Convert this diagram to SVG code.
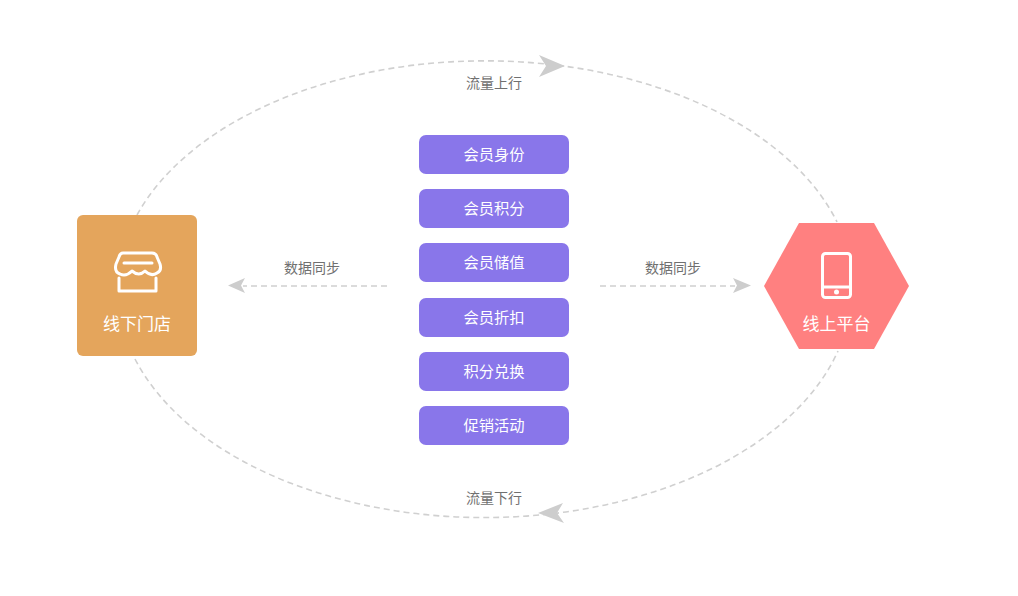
<svg xmlns="http://www.w3.org/2000/svg" width="1018" height="596" viewBox="0 0 1018 596">
<style>
text{font-family:"Noto Sans CJK SC","Liberation Sans",sans-serif;text-anchor:middle}
.lbl{font-size:14px;fill:#707070}
.btn{fill:#8976ea}
.bt{font-size:15.300px;fill:#fff}
.nt{font-size:17px;fill:#fff}
.dash{fill:none;stroke:#d0d0d0;stroke-width:1.6;stroke-dasharray:6 4}
.head{fill:#cdcdcd}
.ico{fill:none;stroke:#fff;stroke-width:3;stroke-linecap:round;stroke-linejoin:round}
</style>
<rect width="1018" height="596" fill="#fff"/>
<g id="connectors">
<path class="dash" d="M137 215A368 228 0 0 1 837 222"/>
<path class="dash" d="M135 359A367 228 0 0 0 838 351"/>
<path class="dash" d="M387 286H243"/>
<path class="dash" d="M600 286H735"/>
<polygon class="head" points="539,55 565,66 539,77 546,66"/>
<polygon class="head" points="563,503 538,513 564,523 557,513"/>
<polygon class="head" points="245,278 228,285.500 245,293 241,285.500"/>
<polygon class="head" points="733,278 751,285.500 733,293 737,285.500"/>
</g>
<g id="label-top"><text class="lbl" x="494" y="88">流量上行</text></g>
<g id="label-bottom"><text class="lbl" x="494" y="503">流量下行</text></g>
<g id="label-left"><text class="lbl" x="312" y="273">数据同步</text></g>
<g id="label-right"><text class="lbl" x="673" y="273">数据同步</text></g>
<g id="store">
<rect x="77" y="215" width="120" height="141" rx="6" fill="#e4a55c"/>
<path class="ico" d="M123 253H152Q156 253 157 257L160 264Q162 271 157 273Q151 277 145 271Q139 277 132 271Q126 277 120 274Q114 272 116 264L119 257Q120 253 123 253Z"/>
<path class="ico" d="M124 263H152"/>
<path class="ico" d="M119 278V291H156V278"/>
<text class="nt" x="137" y="330">线下门店</text>
</g>
<g id="platform">
<polygon points="799,223 874,223 909,286 874,349 799,349 764,286" fill="#ff8080"/>
<rect class="ico" x="822.500" y="253.500" width="28" height="44" rx="3"/>
<path class="ico" d="M823 287H850"/>
<circle cx="836.500" cy="292" r="2.500" fill="#fff"/>
<text class="nt" x="836.500" y="330">线上平台</text>
</g>
<g id="b1"><rect class="btn" x="419" y="135" width="150" height="39" rx="7"/><text class="bt" x="494" y="160">会员身份</text></g>
<g id="b2"><rect class="btn" x="419" y="189" width="150" height="39" rx="7"/><text class="bt" x="494" y="214">会员积分</text></g>
<g id="b3"><rect class="btn" x="419" y="243" width="150" height="39" rx="7"/><text class="bt" x="494" y="268">会员储值</text></g>
<g id="b4"><rect class="btn" x="419" y="298" width="150" height="39" rx="7"/><text class="bt" x="494" y="323">会员折扣</text></g>
<g id="b5"><rect class="btn" x="419" y="352" width="150" height="39" rx="7"/><text class="bt" x="494" y="377">积分兑换</text></g>
<g id="b6"><rect class="btn" x="419" y="406" width="150" height="39" rx="7"/><text class="bt" x="494" y="431">促销活动</text></g>
</svg>
